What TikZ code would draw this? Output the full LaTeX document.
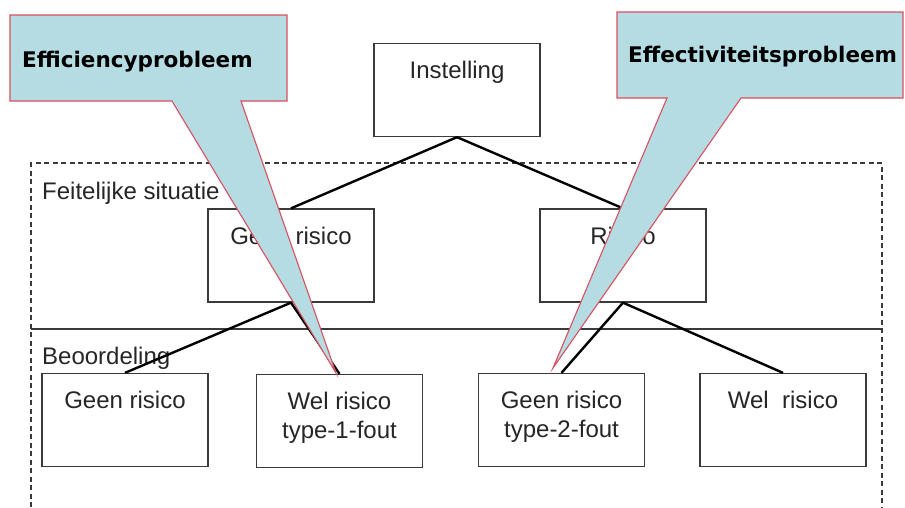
\documentclass[tikz,border=0pt]{standalone}
\usepackage{fontspec}
\setmainfont{Liberation Sans}
\newfontfamily\calloutfont{DejaVu Sans}
\usetikzlibrary{positioning}

\definecolor{boxgray}{HTML}{3A3A3A}
\definecolor{textgray}{HTML}{262626}
\definecolor{calloutblue}{HTML}{B5DCE2}
\definecolor{calloutred}{HTML}{D9505E}

\begin{document}
\begin{tikzpicture}
                [x=1pt, y=-1pt,
                box/.style={draw=boxgray, line width=1.3pt, fill=white,
                    minimum width=166pt, minimum height=93pt, inner sep=0pt},
                boxtext/.style={inner sep=0pt, align=center, text=textgray,
                    font=\fontsize{24}{29}\selectfont},
                link/.style={line width=2.4pt, black},
                callout/.style={fill=calloutblue, draw=calloutred, line width=1.1pt,
                    line join=miter},
                callouttext/.style={inner sep=0pt, anchor=base west,
                    font=\calloutfont\bfseries\fontsize{21.5}{26}\selectfont},
                ]
                \useasboundingbox (0,0) rectangle (905,507);

                % frame with the two levels
                \draw[boxgray, line width=1.2pt, dash pattern=on 5pt off 3.5pt]
                    (31,507) -- (31,163) -- (882,163) -- (882,507);
                \draw[boxgray, line width=1.3pt] (31,329) -- (882,329);
                \node[boxtext, anchor=base west] (feit) at (42,199) {Feitelijke situatie};
                \node[boxtext, anchor=base west] (beoord) at (42,364) {Beoordeling};

                % boxes
                \node[box] (inst) at (457,90) {};
                \node[box] (geen) at (291,255.5) {};
                \node[box] (risico) at (623,255.5) {};
                \node[box] (geenA) at (125,420) {};
                \node[box] (welA) at (339.5,421) {};
                \node[box] (geenB) at (561.5,420) {};
                \node[box] (welB) at (783,420) {};

                \node[boxtext, below=18.5pt of inst.north] (instT) {Instelling};
                \node[boxtext, below=18.5pt of geen.north] (geenT) {Geen risico};
                \node[boxtext, below=18.5pt of risico.north] (risicoT) {Risico};
                \node[boxtext, below=18.5pt of geenA.north] (geenAT) {Geen risico};
                \node[boxtext, below=18.5pt of welA.north] (welAT) {Wel risico\\type-1-fout};
                \node[boxtext, below=18.5pt of geenB.north] (geenBT) {Geen risico\\type-2-fout};
                \node[boxtext, below=18.5pt of welB.north] (welBT) {Wel\ \ risico};

                % connectors
                \draw[link] (inst.south) -- (geen.north);
                \draw[link] (inst.south) -- (risico.north);
                \draw[link] (geen.south) -- (geenA.north);
                \draw[link] (geen.south) -- (welA.north);
                \draw[link] (risico.south) -- (geenB.north);
                \draw[link] (risico.south) -- (welB.north);

                % callouts
                \coordinate (tipA) at (336,373);
                \coordinate (tipB) at (553,368);
                \draw[callout] (10,15) -- (287,15) -- (287,101) -- (241,101)
                    -- (tipA) -- (172,101) -- (10,101) -- cycle;
                \node[callouttext] (effi) at (22,67) {Efficiencyprobleem};
                \draw[callout] (617,12) -- (903,12) -- (903,98) -- (741,98)
                    -- (tipB) -- (667,98) -- (617,98) -- cycle;
                \node[callouttext] (effe) at (628,62) {Effectiviteitsprobleem};
            \end{tikzpicture}
\end{document}
